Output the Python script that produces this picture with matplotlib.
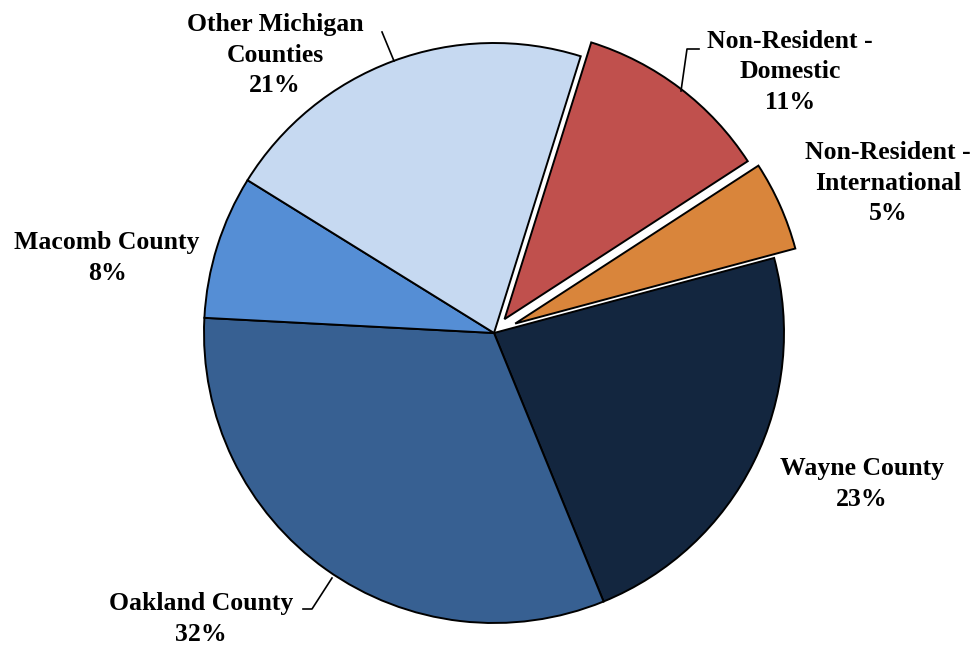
import matplotlib.pyplot as plt

# enrollment share by residence
categories = ['Wayne County', 'Oakland County', 'Macomb County',
              'Other Michigan\nCounties', 'Non-Resident -\nDomestic',
              'Non-Resident -\nInternational']
shares = [23, 32, 8, 21, 11, 5]
colors = ['#13263F', '#376092', '#558ED5', '#C6D9F1', '#C0504D', '#D9853B']
explode = [0, 0, 0, 0, 0.06, 0.08]

fig = plt.figure(figsize=(9.8, 6.48), dpi=100)
ax = fig.add_axes([0, 0, 1, 1])

cx, cy, r = 494, 315, 290
# pie() takes explode in data units, so scale by the radius
ax.pie(shares, colors=colors, explode=[e * r for e in explode], startangle=15,
       counterclock=False, radius=r, center=(cx, cy), frame=True,
       wedgeprops=dict(edgecolor='black', linewidth=1.4))
ax.set_xlim(0, 980)
ax.set_ylim(0, 648)
ax.set_aspect('equal')
ax.axis('off')

# label positions (pixel coords, y up)
label_xy = [(862, 164), (201, 29), (107, 390), (275, 593), (790, 576), (888, 465)]
font = dict(family=['Liberation Serif', 'DejaVu Serif'], fontweight='bold',
            fontsize=18.5, ha='center', va='center', linespacing=1.4)
for name, s, (x, y) in zip(categories, shares, label_xy):
    ax.text(x, y, f'{name}\n{s}%', **font)

# leader lines
ax.plot([382, 394], [648 - 32, 648 - 61], color='black', lw=1.2)
ax.plot([699, 687, 681], [648 - 49, 648 - 49, 648 - 91], color='black', lw=1.2)
ax.plot([303, 312, 332], [648 - 609, 648 - 609, 648 - 578], color='black', lw=1.2)

fig.savefig('out.png', dpi=100)
